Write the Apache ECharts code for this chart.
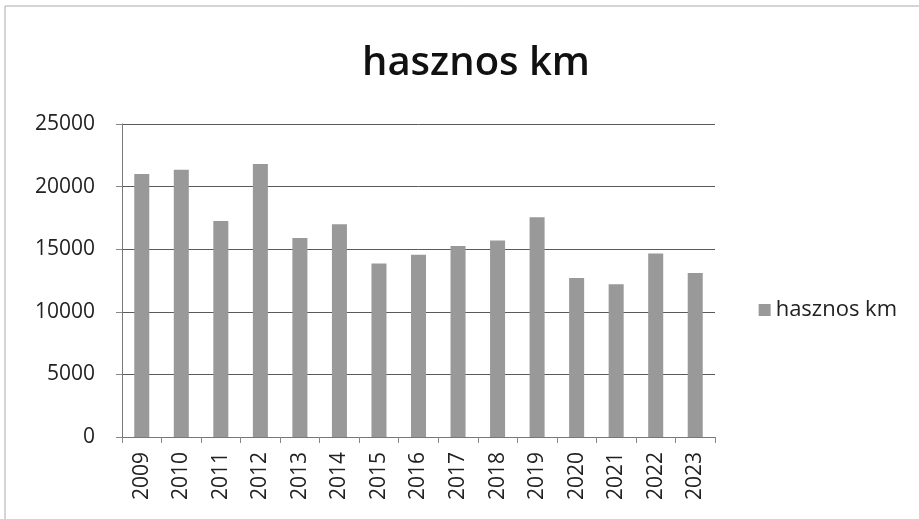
<!DOCTYPE html>
<html><head><meta charset="utf-8">
<script src="https://cdn.jsdelivr.net/npm/echarts@6/dist/echarts.min.js"></script>
<style>html,body{margin:0;padding:0;background:#fff}#c{width:919px;height:519px}</style>
</head><body><div id="c"></div>
<script>
const categories = ['2009','2010','2011','2012','2013','2014','2015','2016','2017','2018','2019','2020','2021','2022','2023'];
const values = [21000, 21350, 17250, 21800, 15900, 17000, 13850, 14550, 15250, 15700, 17550, 12700, 12200, 14650, 13100];
const seriesName = 'hasznos km';
const titleText = 'hasznos km';

const chart = echarts.init(document.getElementById('c'));
chart.setOption({
  animation: false,
  backgroundColor: '#fff',
  title: {
    text: titleText, left: 357, top: 39,
    textStyle: {fontFamily: 'Open Sans', fontWeight: 600, fontSize: 40, color: '#111'}
  },
  legend: {
    data: [seriesName], right: 17, top: 294, orient: 'vertical',
    itemWidth: 12, itemHeight: 12, itemGap: 6,
    textStyle: {fontFamily: 'Open Sans', fontSize: 22, color: '#222'},
    icon: 'rect'
  },
  grid: {left: 122, right: 204, top: 124, bottom: 82, containLabel: false},
  xAxis: {
    type: 'category', data: categories,
    axisLine: {lineStyle: {color: '#777'}},
    axisTick: {show: true, length: 6, lineStyle: {color: '#888'}},
    axisLabel: {rotate: 90, fontFamily: 'Open Sans', fontSize: 21, color: '#222', margin: 15}
  },
  yAxis: {
    type: 'value', min: 0, max: 25000, interval: 5000,
    axisLine: {show: true, lineStyle: {color: '#777'}},
    axisTick: {show: true, length: 6, lineStyle: {color: '#888'}},
    axisLabel: {fontFamily: 'Open Sans', fontSize: 21, color: '#222', margin: 27,
      formatter: v => String(v)},
    splitLine: {lineStyle: {color: '#5a5a5a', width: 1}}
  },
  series: [{
    name: seriesName, type: 'bar', data: values, barWidth: '38%',
    itemStyle: {color: '#999999'}
  }],
  graphic: [{
    type: 'rect', shape: {x: 5, y: 6, width: 940, height: 520},
    style: {fill: 'none', stroke: '#aaa', lineWidth: 1}
  }]
});
</script></body></html>
